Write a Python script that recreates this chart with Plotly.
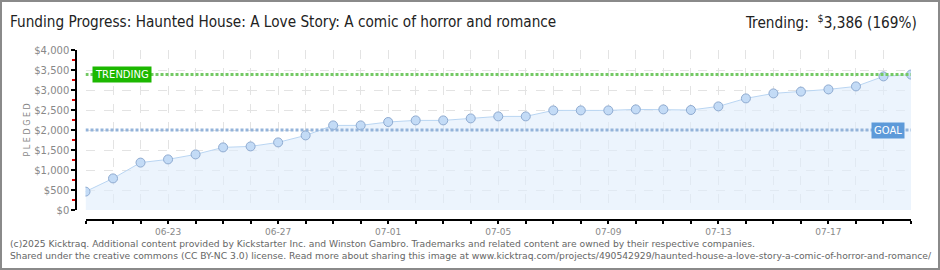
import plotly.graph_objects as go
import pandas as pd

# ---- data ----
dates = pd.date_range("2024-06-20", "2024-07-20", freq="D")
pledged = [460, 790, 1185, 1265, 1390, 1565, 1590, 1690, 1865, 2115, 2115,
           2200, 2240, 2240, 2290, 2340, 2340, 2490, 2490, 2490, 2515,
           2515, 2500, 2590, 2790, 2915, 2960, 3015, 3090, 3340, 3386]
goal = 2000
trending = 3386
trending_pct = 169
label_every = 4
title_text = "Funding Progress: Haunted House: A Love Story: A comic of horror and romance"
footer1 = ("(c)2025 Kicktraq. Additional content provided by Kickstarter Inc. and Winston Gambro. "
           "Trademarks and related content are owned by their respective companies.")
footer2 = ("Shared under the creative commons (CC BY-NC 3.0) license. Read more about sharing this image at "
           "www.kicktraq.com/projects/490542929/haunted-house-a-love-story-a-comic-of-horror-and-romance/")
y_ticks = list(range(0, 4001, 500))
y_ticktext = ["$" + f"{v:,}" for v in y_ticks]

W, H = 940, 270
ML, MR, MT, MB = 76, 29, 50, 50
PW, PH = W - ML - MR, H - MT - MB


def px(x):
    return (x - ML) / PW


def py(y):
    return (H - MB - y) / PH


tickvals = list(dates)
ticktext = [d.strftime("%m-%d") if (i % label_every == 3) else " " for i, d in enumerate(dates)]

fig = go.Figure()
fig.add_trace(go.Scatter(
    x=dates, y=pledged, mode="lines+markers",
    line=dict(color="#b9d5f2", width=1),
    fill="tozeroy", fillcolor="rgba(224,236,251,0.6)",
    marker=dict(size=9, color="#c3dbf6", line=dict(color="#8eaad0", width=1)),
    hoverinfo="skip", showlegend=False))
fig.add_trace(go.Scatter(
    x=[dates[0], dates[-1]], y=[trending, trending], mode="lines",
    line=dict(color="#74c965", width=3, dash="3px,2px"), showlegend=False, hoverinfo="skip"))
fig.add_trace(go.Scatter(
    x=[dates[0], dates[-1]], y=[goal, goal], mode="lines",
    line=dict(color="#93b3da", width=3, dash="3px,2px"), showlegend=False, hoverinfo="skip"))

fig.update_layout(
    width=W, height=H,
    margin=dict(l=ML, r=MR, t=MT, b=MB),
    paper_bgcolor="white", plot_bgcolor="white",
    xaxis=dict(
        domain=[px(85.5), 1], anchor="free", position=0,
        range=[dates[0], dates[-1]],
        tickvals=tickvals, ticktext=ticktext,
        showgrid=True, gridcolor="#e3e3e3", griddash="dash", gridwidth=1,
        showline=True, linecolor="black", linewidth=1.5,
        ticks="outside", ticklen=3, tickcolor="black", tickwidth=1.5,
        tickfont=dict(family="DejaVu Sans", size=9, color="#888888"),
        zeroline=False, fixedrange=True),
    yaxis=dict(
        domain=[10 / PH, 1], anchor="free", position=0,
        range=[0, 4000],
        tickvals=y_ticks, ticktext=y_ticktext,
        showgrid=True, gridcolor="#e3e3e3", griddash="dash", gridwidth=1,
        showline=True, linecolor="black", linewidth=1.5,
        ticks="outside", ticklen=4, tickcolor="black", tickwidth=1.5,
        minor=dict(dtick=250, ticks="outside", ticklen=3, tickcolor="#e00000", tickwidth=1.5, showgrid=False),
        tickfont=dict(family="DejaVu Sans", size=10, color="#888888"),
        zeroline=False, fixedrange=True),
)

# frame
fig.add_shape(type="rect", xref="paper", yref="paper",
              x0=px(1), x1=px(939), y0=py(1), y1=py(269),
              line=dict(color="#8a8a8a", width=2), fillcolor="rgba(0,0,0,0)", layer="below")

title_font = dict(family="DejaVu Sans Condensed", size=15.2, color="#222222")
fig.add_annotation(xref="paper", yref="paper", x=px(8), y=py(22), xanchor="left", yanchor="middle",
                   text=title_text, showarrow=False, font=title_font)
fig.add_annotation(xref="paper", yref="paper", x=px(919), y=py(22), xanchor="right", yanchor="middle",
                   text=f"Trending:  <sup>$</sup>{trending:,} ({trending_pct}%)", showarrow=False, font=title_font)

fig.add_annotation(xref="paper", yref="paper", x=px(20), y=py(130), textangle=-90,
                   text="P L E D G E D", showarrow=False,
                   font=dict(family="DejaVu Sans", size=8, color="#888888"))

fig.add_annotation(x=dates[0], y=trending, xref="x", yref="y", xanchor="left", yanchor="middle",
                   xshift=6, text="TRENDING", showarrow=False, bgcolor="#1cb800",
                   borderpad=2, font=dict(family="DejaVu Sans", size=10, color="white"))
fig.add_annotation(x=dates[-1], y=goal, xref="x", yref="y", xanchor="right", yanchor="middle",
                   xshift=-6, text="GOAL", showarrow=False, bgcolor="#5d9ad9",
                   borderpad=2, font=dict(family="DejaVu Sans", size=10, color="white"))

foot_font = dict(family="DejaVu Sans", size=9.2, color="#666666")
fig.add_annotation(xref="paper", yref="paper", x=px(8), y=py(243), xanchor="left", yanchor="middle",
                   text=footer1, showarrow=False, font=foot_font)
fig.add_annotation(xref="paper", yref="paper", x=px(8), y=py(256), xanchor="left", yanchor="middle",
                   text=footer2, showarrow=False, font=foot_font)

fig.write_html("out.html", config={"displayModeBar": False})
